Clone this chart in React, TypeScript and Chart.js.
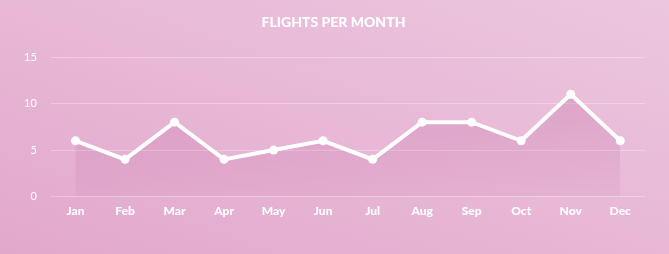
import React, { useEffect, useRef } from "react";
import { Chart, registerables } from "chart.js";

Chart.register(...registerables);

const chartTitle = "FLIGHTS PER MONTH";
const months = ["Jan", "Feb", "Mar", "Apr", "May", "Jun", "Jul", "Aug", "Sep", "Oct", "Nov", "Dec"];
const flights = [6, 4, 8, 4, 5, 6, 4, 8, 8, 6, 11, 6];
const yTicks = [0, 5, 10, 15];

const centeredTitle = {
  id: "centeredTitle",
  afterDraw(chart: any) {
    const c = chart.ctx;
    c.save();
    c.fillStyle = "#ffffff";
    c.font = "900 14px Lato";
    c.textAlign = "center";
    c.textBaseline = "middle";
    c.fillText(chartTitle, chart.width / 2 - 1, 22);
    c.restore();
  },
};

export default function App() {
  const ref = useRef<HTMLCanvasElement | null>(null);
  useEffect(() => {
    document.body.style.margin = "0";
    const canvas = ref.current!;
    const chart = new Chart(canvas, {
      type: "line",
      data: {
        labels: months,
        datasets: [
          {
            data: flights,
            borderColor: "#ffffff",
            borderWidth: 4,
            pointRadius: 4.5,
            pointBackgroundColor: "#ffffff",
            pointBorderColor: "#ffffff",
            pointBorderWidth: 0,
            tension: 0,
            fill: "origin",
            backgroundColor: (ctx: any) => {
              const area = ctx.chart.chartArea;
              if (!area) return "rgba(200,110,165,0.2)";
              const g = ctx.chart.ctx.createLinearGradient(0, area.top, 0, area.bottom);
              g.addColorStop(0, "rgba(185,95,155,0.34)");
              g.addColorStop(1, "rgba(185,95,155,0.08)");
              return g;
            },
          },
        ],
      },
      options: {
        animation: false,
        responsive: false,
        maintainAspectRatio: false,
        layout: { padding: { left: 10, right: 24, top: 57, bottom: 29 } },
        plugins: {
          legend: { display: false },
          tooltip: { enabled: false },
          title: { display: false },
        },
        scales: {
          x: {
            offset: true,
            grid: { display: false, drawTicks: false },
            border: { display: false },
            ticks: {
              color: "#ffffff",
              font: { family: "Lato", size: 12, weight: "900" },
              padding: 7,
            },
          },
          y: {
            min: 0,
            max: 15,
            afterBuildTicks: (axis: any) => {
              axis.ticks = yTicks.map((v) => ({ value: v }));
            },
            grid: { color: "rgba(255,255,255,0.3)", drawTicks: false, lineWidth: 1 },
            border: { display: false },
            ticks: {
              color: "#ffffff",
              font: { family: "Lato", size: 11 },
              padding: 14,
            },
          },
        },
      },
      plugins: [centeredTitle],
    });
    return () => chart.destroy();
  }, []);
  return (
    <div
      style={{
        width: 669,
        height: 254,
        background: "linear-gradient(20deg, #e2a8cc 0%, #e8b8d6 50%, #ecc6de 100%)",
      }}
    >
      <canvas ref={ref} width={669} height={254} style={{ display: "block" }} />
    </div>
  );
}
